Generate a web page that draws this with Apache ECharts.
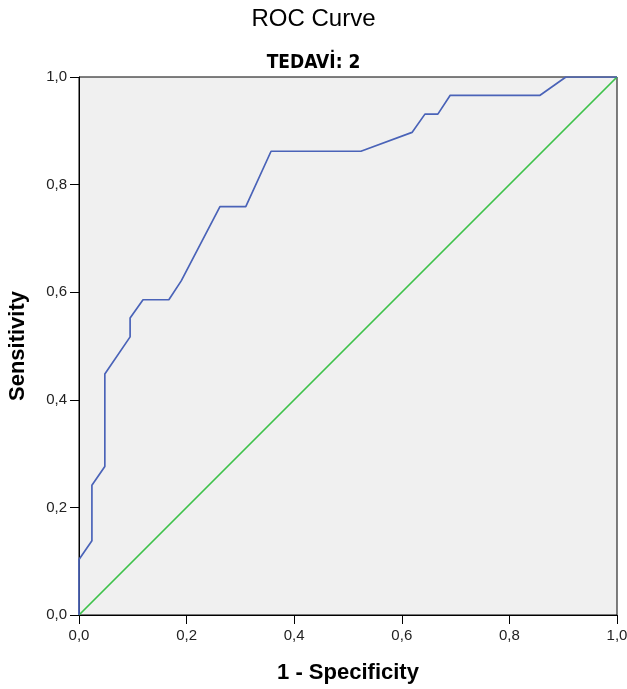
<!DOCTYPE html>
<html>
<head>
<meta charset="utf-8">
<script src="https://cdn.jsdelivr.net/npm/echarts@6/dist/echarts.min.js"></script>
<style>
  html, body { margin: 0; padding: 0; background: #fff; }
  #chart { width: 627px; height: 689px; }
</style>
</head>
<body>
<div id="chart"></div>
<script>
// ROC curve points: 1 - specificity, sensitivity
const fpr = [0, 0, 0.024, 0.024, 0.048, 0.048, 0.095, 0.095, 0.119, 0.167, 0.190, 0.262, 0.310, 0.357, 0.524, 0.619, 0.643, 0.667, 0.690, 0.857, 0.905, 1]
const tpr = [0, 0.103, 0.138, 0.241, 0.276, 0.448, 0.517, 0.552, 0.586, 0.586, 0.621, 0.759, 0.759, 0.862, 0.862, 0.897, 0.931, 0.931, 0.966, 0.966, 1, 1]
// reference line
const refX = [0, 1]
const refY = [0, 1]

const fmt = v => v.toFixed(1).replace('.', ',')

let myChart = echarts.init(document.getElementById('chart'))

const axisCommon = {
    type: 'value',
    min: 0,
    max: 1,
    interval: 0.2,
    splitLine: { show: false },
    axisLine: { show: true, lineStyle: { color: '#000', width: 1 } },
    axisTick: { show: true, inside: false, length: 9, lineStyle: { color: '#000' } },
    axisLabel: {
        formatter: fmt,
        color: '#222',
        fontSize: 15,
        fontFamily: 'Liberation Sans, Arial, sans-serif'
    },
    nameLocation: 'middle',
    nameTextStyle: {
        fontSize: 22,
        fontWeight: 'bold',
        color: '#000',
        fontFamily: 'Liberation Sans, Arial, sans-serif'
    }
}

const option = {
    animation: false,
    backgroundColor: '#fff',
    title: [
        {
            text: 'ROC Curve',
            left: 'center',
            top: 2,
            textStyle: {
                fontSize: 24,
                fontWeight: 'normal',
                color: '#000',
                fontFamily: 'Liberation Sans, Arial, sans-serif'
            }
        },
        {
            text: 'TEDAVİ: 2',
            left: 'center',
            top: 49,
            textStyle: {
                fontSize: 19,
                fontWeight: 'bold',
                color: '#000',
                fontFamily: 'Liberation Sans Narrow, DejaVu Sans Condensed, Arial, sans-serif'
            }
        }
    ],
    grid: {
        left: 79,
        right: 10,
        top: 77,
        bottom: 74,
        containLabel: false,
        outerBoundsMode: 'none',
        show: true,
        backgroundColor: '#f0f0f0',
        borderColor: '#000',
        borderWidth: 1
    },
    xAxis: Object.assign({}, axisCommon, {
        name: '1 - Specificity',
        nameGap: 47,
        axisLabel: Object.assign({}, axisCommon.axisLabel, { margin: 13 })
    }),
    yAxis: Object.assign({}, axisCommon, {
        name: 'Sensitivity',
        nameGap: 50,
        axisLabel: Object.assign({}, axisCommon.axisLabel, { margin: 12 })
    }),
    series: [
        {
            name: 'ROC',
            type: 'line',
            data: fpr.map((x, i) => [x, tpr[i]]),
            showSymbol: false,
            lineStyle: { color: '#4a63b8', width: 1.7 },
            z: 3
        },
        {
            name: 'Reference',
            type: 'line',
            data: refX.map((x, i) => [x, refY[i]]),
            showSymbol: false,
            lineStyle: { color: '#3cc24a', width: 1.7 },
            z: 2
        }
    ]
}

myChart.setOption(option)
</script>
</body>
</html>
